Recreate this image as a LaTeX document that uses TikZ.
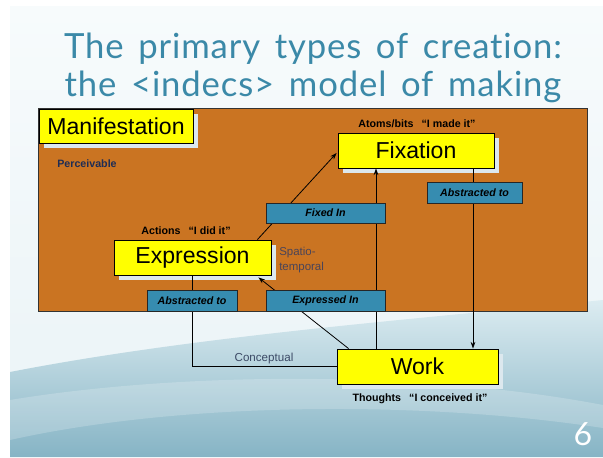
\documentclass[tikz,border=0pt]{standalone}
\usepackage{fontspec}
\setmainfont{Liberation Sans}
\newfontfamily\titlefont[Ligatures={NoCommon,NoRare}, LetterSpace=2.5, WordSpace=1.5]{Lato}
\newfontfamily\numfont{Lato}
\usetikzlibrary{calc,shadows,arrows.meta}

\definecolor{slidetop}{HTML}{F7FBFC}
\definecolor{slidemid}{HTML}{EDF5F8}
\definecolor{wavetop}{HTML}{DCECF1}
\definecolor{wavebot}{HTML}{86B4C5}
\definecolor{titleblue}{HTML}{3B89A8}
\definecolor{frameorange}{HTML}{CA7422}
\definecolor{boxyellow}{HTML}{FFFF00}
\definecolor{shadowc}{HTML}{DCE8EE}
\definecolor{labelblue}{HTML}{368CB0}
\definecolor{navytext}{HTML}{1E2D55}
\definecolor{greytext}{HTML}{4A4458}
\definecolor{slatetext}{HTML}{3C4A66}

\tikzset{
  dim/.style 2 args={minimum width=#1*0.75pt, minimum height=#2*0.75pt},
  ybox/.style={draw=black, line width=0.6pt, fill=boxyellow, inner sep=0pt,
    font=\fontsize{17.3}{20}\selectfont,
    drop shadow={shadow xshift=3.4pt, shadow yshift=-3.9pt, fill=shadowc, opacity=1}},
  lbox/.style={draw=black!85, line width=0.6pt, fill=labelblue, inner sep=0pt,
    font=\fontsize{8}{9}\selectfont\bfseries\itshape},
  tag/.style={font=\fontsize{8}{9}\selectfont\bfseries, inner sep=0pt},
  conn/.style={draw=black, line width=0.6pt},
  arr/.style={conn, -{Stealth[length=5pt,width=3.5pt]}},
  ttl/.style={font=\titlefont\fontsize{26}{28}\selectfont, text=titleblue, anchor=base, inner sep=0pt},
}

\begin{document}
\begin{tikzpicture}[x=0.75pt,y=-0.75pt]
  % page and slide background
  \useasboundingbox (0,0) rectangle (603,457);
  \fill[white] (0,0) rectangle (603,457);
  \shade[top color=slidetop, bottom color=slidemid] (10,6) rectangle (603,340);
  \fill[slidemid] (10,339) rectangle (603,457);
  % lower swoosh
  \shade[top color=wavetop, bottom color=wavebot]
    (10,372) .. controls (200,335) and (430,318) .. (603,300)
    -- (603,457) -- (10,457) -- cycle;
  \fill[white, opacity=0.2]
    (10,400) .. controls (180,372) and (420,370) .. (603,405)
    -- (603,428) .. controls (420,400) and (180,402) .. (10,440) -- cycle;

  % title
  \node[ttl] (title1) at (313,58) {The primary types of creation:};
  \node[ttl] (title2) at (313,96) {the <indecs> model of making};

  % manifestation frame
  \node[draw=black!80, line width=0.6pt, fill=frameorange, dim={549}{203}] (frame) at (312.5,209.5) {};

  % main entities
  \node[ybox, dim={154}{34}] (man) at (116,126) {Manifestation};
  \node[ybox, dim={156}{35}] (fix) at (416,150.5) {Fixation};
  \node[ybox, dim={157}{35}] (expr) at (192.5,257.5) {Expression};
  \node[ybox, dim={161}{35}] (work) at (417.5,366.5) {Work};

  % free texts
  \node[tag, text=navytext] (perc) at (87,164) {Perceivable};
  \node[tag] (fixtag) at (417,124) {Atoms/bits\hspace{6pt}“I made it”};
  \node[tag] (exprtag) at (186,231) {Actions\hspace{6pt}“I did it”};
  \node[tag] (worktag) at (420,399) {Thoughts\hspace{6pt}“I conceived it”};
  \node[font=\fontsize{8.6}{11.2}\selectfont, text=greytext, align=left, anchor=west, inner sep=0pt] (spatio) at (279,260) {Spatio-\\temporal};

  % connectors
  \coordinate (vx) at (376,0);
  \coordinate (ax) at (473,0);
  \draw[arr] ($(expr.north east)+(-14,0)$) -- ($(fix.west)+(-1,2.5)$);
  \draw[arr] (work.north -| vx) -- (fix.south -| vx);
  \draw[arr] (fix.south -| ax) -- (work.north -| ax);
  \draw[arr] ($(work.north west)+(12,0)$) -- ($(expr.south east)+(-13,2)$);
  \draw[conn] (expr.south) |- (work.west);
  \node[font=\fontsize{8.7}{10}\selectfont, text=slatetext, inner sep=0pt] (concept) at (264,358) {Conceptual};

  % relation labels
  \node[lbox, dim={119}{20}] (fixedin) at (325.5,213) {Fixed In};
  \node[lbox, dim={95}{21}] (absr) at (474.5,192.5) {Abstracted to};
  \node[lbox, dim={90}{21}] (absl) at (192,300.5) {Abstracted to};
  \node[lbox, dim={119}{21}] (expin) at (325.5,300.5) {Expressed In};

  % slide number
  \node[font=\numfont\fontsize{24}{24}\selectfont, text=white, inner sep=0pt] (pgnum) at (583,434.5) {6};
\end{tikzpicture}
\end{document}
